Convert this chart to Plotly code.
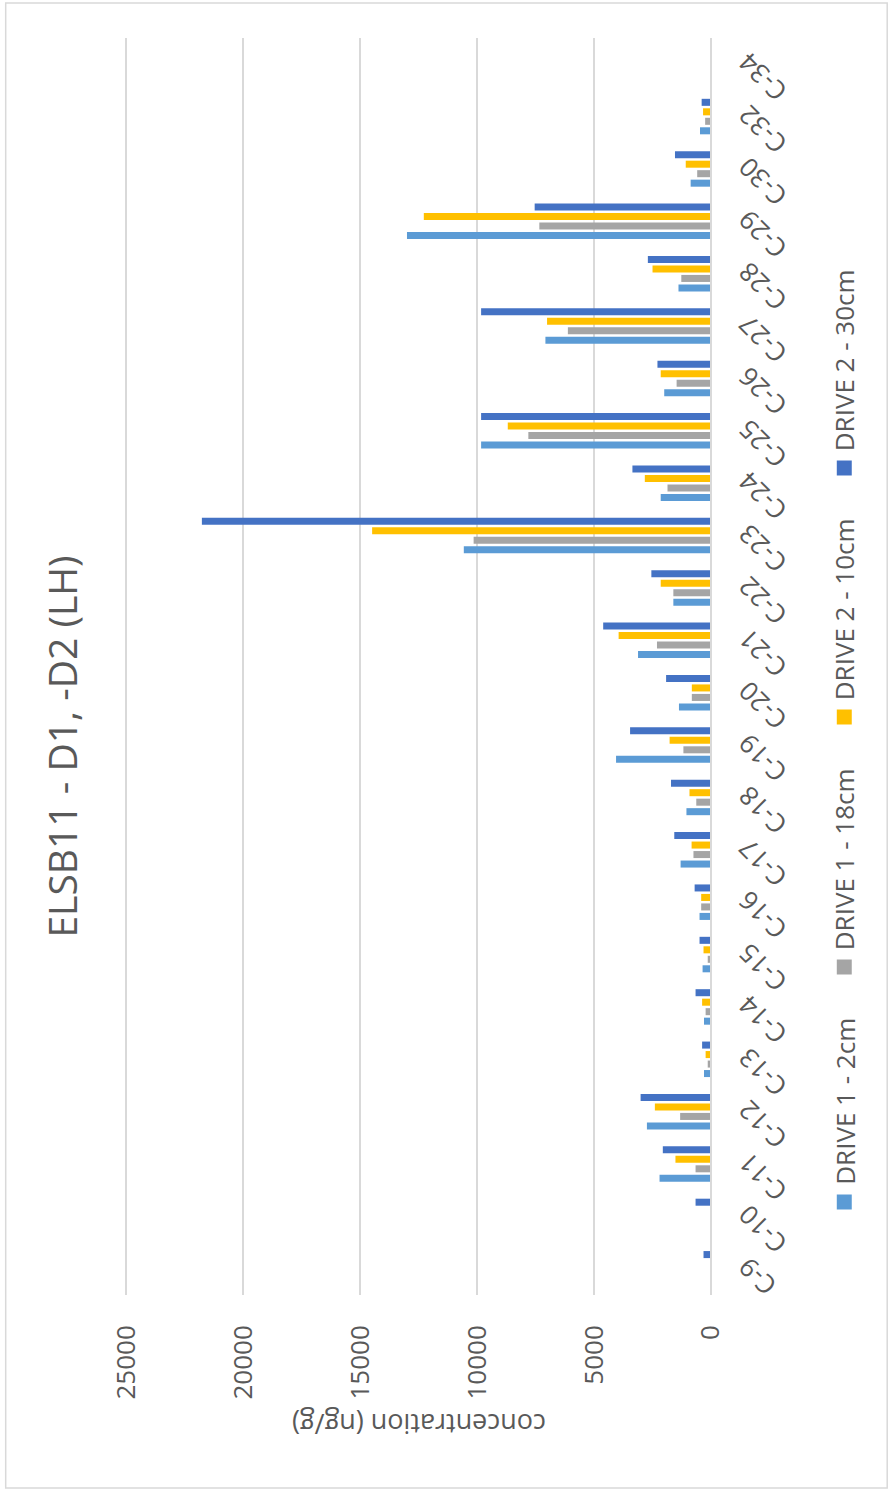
import plotly.graph_objects as go

# Carbon-chain categories and concentrations (ng/g)
categories = ["C-9", "C-10", "C-11", "C-12", "C-13", "C-14", "C-15", "C-16",
              "C-17", "C-18", "C-19", "C-20", "C-21", "C-22", "C-23", "C-24",
              "C-25", "C-26", "C-27", "C-28", "C-29", "C-30", "C-32", "C-34"]

series_names = ["DRIVE 1 - 2cm", "DRIVE 1 - 18cm", "DRIVE 2 - 10cm", "DRIVE 2 - 30cm"]

drive1_2cm = [0, 0, 2200, 2740, 300, 300, 360, 490, 1300, 1050, 4060, 1370,
              3120, 1610, 10570, 2150, 9830, 2000, 7080, 1390, 13000, 870, 470, 0]
drive1_18cm = [0, 0, 660, 1320, 140, 230, 140, 420, 750, 630, 1180, 820,
               2310, 1610, 10150, 1860, 7810, 1470, 6120, 1270, 7340, 590, 250, 0]
drive2_10cm = [0, 0, 1520, 2400, 230, 380, 320, 420, 830, 920, 1770, 820,
               3950, 2150, 14490, 2830, 8690, 2150, 7010, 2500, 12280, 1080, 340, 0]
drive2_30cm = [320, 660, 2060, 3010, 380, 660, 490, 700, 1570, 1710, 3460, 1920,
               4610, 2550, 21770, 3360, 9830, 2290, 9830, 2700, 7540, 1540, 400, 0]

value_ticks = [0, 5000, 10000, 15000, 20000, 25000]

series_values = [drive1_2cm, drive1_18cm, drive2_10cm, drive2_30cm]
colors = ["#5B9BD5", "#A5A5A5", "#FFC000", "#4472C4"]
text_color = "#595959"
grid_color = "#D9D9D9"
font_family = "Open Sans"

# Page geometry (pixels) and plot-area margins
W, H = 891, 1491
ML, MR, MT, MB = 123.5, 179.5, 38, 196
PW = W - ML - MR
PH = H - MT - MB


def px(x):
    return (x - ML) / PW


def py(y):
    return (H - MB - y) / PH


fig = go.Figure()
for name, vals, col in zip(series_names, series_values, colors):
    fig.add_trace(go.Bar(
        y=categories, x=vals, name=name, orientation="h",
        marker=dict(color=col, line=dict(width=0)),
        showlegend=False,
    ))

annotations = []
shapes = []

# Chart title (reads bottom-to-top)
annotations.append(dict(
    text="ELSB11 - D1, -D2 (LH)", x=px(60), y=py(747), xref="paper", yref="paper",
    textangle=-90, showarrow=False, xanchor="center", yanchor="middle",
    font=dict(family=font_family, size=39, color=text_color),
))

# Value-axis title (upside down)
annotations.append(dict(
    text="concentration (ng/g)", x=px(419), y=py(1425), xref="paper", yref="paper",
    textangle=180, showarrow=False, xanchor="center", yanchor="middle",
    font=dict(family=font_family, size=27, color=text_color),
))

# Legend drawn vertically along the right edge
legend_y = [1202, 967, 717, 468]
for name, col, ly in zip(series_names, colors, legend_y):
    shapes.append(dict(
        type="rect", xref="paper", yref="paper",
        x0=px(837.5), x1=px(852.5), y0=py(ly + 7.5), y1=py(ly - 7.5),
        fillcolor=col, line=dict(width=0),
    ))
    annotations.append(dict(
        text=name, x=px(845), y=py(ly - 15), xref="paper", yref="paper",
        textangle=-90, showarrow=False, xanchor="center", yanchor="bottom",
        font=dict(family=font_family, size=26, color=text_color),
    ))

# Outer chart border
shapes.append(dict(
    type="rect", xref="paper", yref="paper",
    x0=px(5), x1=px(888), y0=py(1488), y1=py(3),
    line=dict(color=grid_color, width=1.5), fillcolor="rgba(0,0,0,0)", layer="below",
))

fig.update_layout(
    width=W, height=H,
    margin=dict(l=ML, r=MR, t=MT, b=MB, pad=0),
    paper_bgcolor="white", plot_bgcolor="white",
    barmode="group", bargap=0.275, bargroupgap=0.26,
    font=dict(family=font_family, color=text_color),
    annotations=annotations, shapes=shapes,
    showlegend=False,
    xaxis=dict(
        range=[25100, 0], tickmode="array", tickvals=value_ticks,
        ticktext=[str(v) for v in value_ticks],
        tickangle=-90, ticklabelstandoff=24,
        showgrid=True, gridcolor=grid_color, gridwidth=1.5,
        zeroline=False, showline=False, ticks="",
        tickfont=dict(family=font_family, size=26, color=text_color),
        fixedrange=True,
    ),
    yaxis=dict(
        type="category", categoryorder="array", categoryarray=categories,
        side="left", anchor="free", position=1,
        showline=True, linecolor=grid_color, linewidth=1.5,
        showgrid=False, zeroline=False, ticks="",
        tickangle=-135, ticklabelstandoff=-36,
        tickfont=dict(family=font_family, size=26, color=text_color),
        fixedrange=True,
    ),
)

fig.write_html("out.html")
